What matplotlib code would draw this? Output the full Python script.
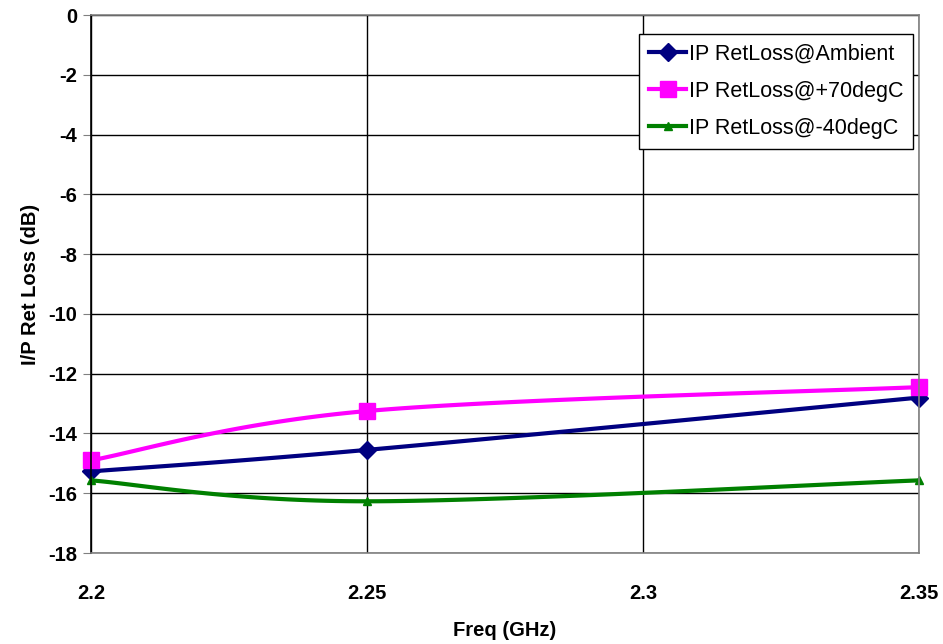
import numpy as np
import matplotlib.pyplot as plt

freq = [2.2, 2.25, 2.35]
ambient = [-15.27, -14.55, -12.8]
hot = [-14.9, -13.25, -12.45]
cold = [-15.57, -16.27, -15.57]

labels = ['IP RetLoss@Ambient', 'IP RetLoss@+70degC', 'IP RetLoss@-40degC']
colours = ['#000080', '#FF00FF', '#008000']
markers = ['D', 's', '^']
msizes = [9, 11, 6]

plt.rcParams['font.family'] = ['Liberation Sans', 'DejaVu Sans']
plt.rcParams['axes.unicode_minus'] = False


def smooth(xs, ys, n=40):
    # Excel-style smoothed line: bezier segments with catmull-rom control points
    pts = np.column_stack([xs, ys]).astype(float)
    # scale x so x and y are comparable in screen units
    sx = 828 / 0.15
    sy = 538 / 18.0
    p = pts * [sx, sy]
    out = []
    for i in range(len(p) - 1):
        p0 = p[i - 1] if i > 0 else p[i]
        p1 = p[i]
        p2 = p[i + 1]
        p3 = p[i + 2] if i + 2 < len(p) else p[i + 1]
        c1 = p1 + (p2 - p0) / 6
        c2 = p2 - (p3 - p1) / 6
        t = np.linspace(0, 1, n)[:, None]
        seg = (1 - t) ** 3 * p1 + 3 * (1 - t) ** 2 * t * c1 + 3 * (1 - t) * t ** 2 * c2 + t ** 3 * p2
        out.append(seg if i == 0 else seg[1:])
    out = np.vstack(out) / [sx, sy]
    return out[:, 0], out[:, 1]


fig = plt.figure(figsize=(9.43, 6.44), dpi=100)
ax = fig.add_axes([0.0965, 0.1413, 0.878, 0.8354])

for ys, c, m, ms, lab in zip([ambient, hot, cold], colours, markers, msizes, labels):
    sx_, sy_ = smooth(freq, ys)
    ax.plot(sx_, sy_, color=c, lw=3, solid_capstyle='butt')
    ax.plot(freq, ys, ls='none', marker=m, ms=ms, color=c, clip_on=False)
    ax.plot([], [], color=c, lw=3, marker=m, ms=ms, label=lab)

ax.set_xlim(2.2, 2.35)
ax.set_ylim(-18, 0)
ax.set_xticks([2.2, 2.25, 2.3, 2.35])
ax.set_xticklabels(['2.2', '2.25', '2.3', '2.35'])
ax.set_yticks(np.arange(-18, 1, 2))
ax.grid(True, color='black', lw=1)
ax.set_axisbelow(True)

for s in ['top', 'right', 'bottom']:
    ax.spines[s].set_color('#808080')
    ax.spines[s].set_linewidth(1.2)
ax.spines['left'].set_color('black')
ax.spines['left'].set_linewidth(1.2)

ax.tick_params(axis='y', length=6, color='#808080', labelsize=14.5, pad=4)
ax.tick_params(axis='x', length=0, labelsize=14.5, pad=22)
for t in ax.get_xticklabels() + ax.get_yticklabels():
    t.set_fontweight('bold')

ax.set_xlabel('Freq (GHz)', fontsize=14.5, fontweight='bold', labelpad=13)
ax.set_ylabel('I/P Ret Loss (dB)', fontsize=14.5, fontweight='bold', labelpad=6)

leg = ax.legend(loc='upper right', bbox_to_anchor=(1.0055, 0.985), fontsize=15.5, frameon=True,
                fancybox=False, edgecolor='black', framealpha=1, handlelength=1.75,
                handletextpad=0.1, borderpad=0.45, labelspacing=0.75)
leg.get_frame().set_linewidth(1)

fig.savefig('out.png', dpi=100)
